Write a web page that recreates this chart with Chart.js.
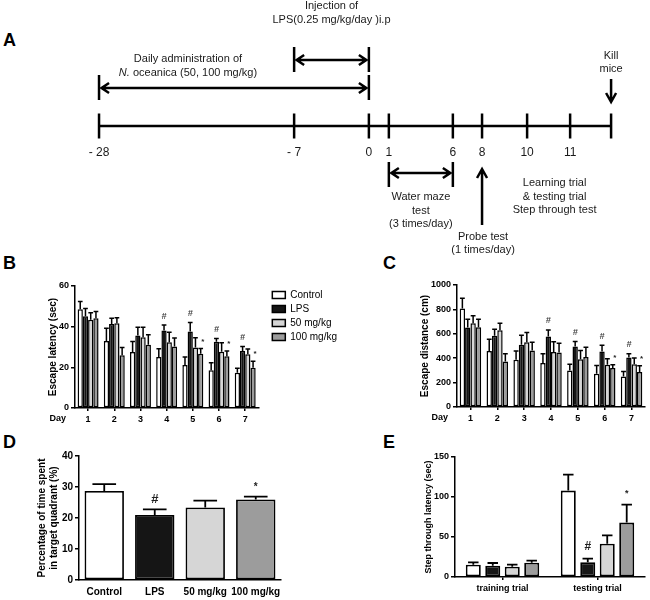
<!DOCTYPE html>
<html>
<head>
<meta charset="utf-8">
<script src="https://cdn.jsdelivr.net/npm/chart.js@4.4.0/dist/chart.umd.min.js"></script>
<style>
  body { margin: 0; background: #fff; width: 650px; height: 600px; position: relative; overflow: hidden; }
  canvas { position: absolute; }
  .letter { position: absolute; font: bold 18px Arial, "Liberation Sans", sans-serif; line-height: 20px; color: #000; }
</style>
</head>
<body>
<div class="letter" style="left:3px;top:30px">A</div>
<div class="letter" style="left:3px;top:253px">B</div>
<div class="letter" style="left:383px;top:253px">C</div>
<div class="letter" style="left:3px;top:432px">D</div>
<div class="letter" style="left:383px;top:432px">E</div>

<canvas id="chartA" width="650" height="260" style="left:0;top:0"></canvas>
<canvas id="chartB" width="370" height="165" style="left:0;top:270px"></canvas>
<canvas id="chartC" width="275" height="165" style="left:375px;top:270px"></canvas>
<canvas id="chartD" width="330" height="160" style="left:0;top:440px"></canvas>
<canvas id="chartE" width="320" height="160" style="left:330px;top:440px"></canvas>

<script>
const FONT = 'Arial, "Liberation Sans", sans-serif';

// timeline (panel A): tick labels and their place along the schematic axis
const tlLabels = ['- 28', '- 7', '0', '1', '6', '8', '10', '11', ''];
const tlPos = [0, 38.1, 52.7, 56.6, 69.1, 74.8, 83.6, 92.0, 100];

// groups
const groupNames = ['Control', 'LPS', '50 mg/kg', '100 mg/kg'];
const groupFill = ['#ffffff', '#151515', '#d6d6d6', '#9c9c9c'];

// B: escape latency (sec)
const days = ['1', '2', '3', '4', '5', '6', '7'];
const latControl = [48.6, 32.9, 27.6, 25.1, 21.1, 18.6, 17.3];
const latLPS = [45.1, 41.3, 35.7, 38.1, 37.6, 32.6, 28.0];
const lat50 = [43.4, 41.7, 34.8, 32.3, 29.7, 27.7, 26.4];
const lat100 = [44.1, 25.9, 31.1, 30.3, 26.7, 25.4, 19.8];
const latControlSem = [3.8, 6.3, 5.1, 4.1, 4.0, 3.6, 2.3];
const latLPSSem = [3.8, 2.8, 4.0, 2.7, 4.4, 1.6, 2.3];
const lat50Sem = [3.4, 2.7, 4.9, 5.0, 4.8, 4.4, 2.6];
const lat100Sem = [3.4, 3.8, 4.9, 4.1, 2.6, 2.6, 3.2];
const latLPSMarks = ['', '', '', '#', '#', '#', '#'];
const lat100Marks = ['', '', '', '', '*', '*', '*'];

// C: escape distance (cm)
const distControl = [807, 460, 387, 360, 300, 272, 251];
const distLPS = [651, 583, 510, 578, 496, 455, 406];
const dist50 = [687, 629, 531, 450, 392, 346, 351];
const dist100 = [654, 373, 463, 447, 409, 319, 286];
const distControlSem = [84, 96, 73, 76, 51, 69, 41];
const distLPSSem = [68, 55, 79, 54, 41, 52, 30];
const dist50Sem = [60, 58, 79, 84, 71, 49, 50];
const dist100Sem = [65, 63, 68, 76, 81, 27, 52];
const distLPSMarks = ['', '', '', '#', '#', '#', '#'];
const dist100Marks = ['', '', '', '', '', '*', '*'];

// D: time in target quadrant (%)
const quadrant = [28.7, 21.0, 23.4, 26.0];
const quadrantSem = [2.2, 1.8, 2.2, 0.9];
const quadrantMarks = ['', '#', '', '*'];

// E: step through latency (sec)
const trials = ['training trial', 'testing trial'];
const stepControl = [15.4, 108];
const stepLPS = [14.2, 18.3];
const step50 = [12.9, 41.7];
const step100 = [17.9, 68];
const stepControlSem = [2.9, 20];
const stepLPSSem = [3.3, 4.6];
const step50Sem = [2.5, 10.3];
const step100Sem = [2.5, 22.4];
const stepLPSMarks = ['', '#'];
const step100Marks = ['', '*'];

// ---------- panel A ----------
function hArrow(ctx, x1, x2, y) {
  ctx.beginPath();
  ctx.moveTo(x1 + 2, y); ctx.lineTo(x2 - 2, y);
  ctx.moveTo(x1 + 10, y - 5); ctx.lineTo(x1 + 2.5, y); ctx.lineTo(x1 + 10, y + 5);
  ctx.moveTo(x2 - 10, y - 5); ctx.lineTo(x2 - 2.5, y); ctx.lineTo(x2 - 10, y + 5);
  ctx.stroke();
}
function vLine(ctx, x, y1, y2) {
  ctx.beginPath(); ctx.moveTo(x, y1); ctx.lineTo(x, y2); ctx.stroke();
}
function vArrow(ctx, x, yFrom, yTo) {
  const d = yTo > yFrom ? 1 : -1;
  ctx.beginPath();
  ctx.moveTo(x, yFrom); ctx.lineTo(x, yTo);
  ctx.moveTo(x - 5, yTo - d * 9); ctx.lineTo(x, yTo); ctx.lineTo(x + 5, yTo - d * 9);
  ctx.stroke();
}
function centerLines(ctx, lines, cx, y, step) {
  ctx.textAlign = 'center';
  lines.forEach((t, i) => ctx.fillText(t, cx, y + i * step));
}

const timelinePlugin = {
  id: 'timeline',
  afterDatasetsDraw(chart) {
    const ctx = chart.ctx;
    const xs = tlPos.map(p => chart.scales.x.getPixelForValue(p));
    const y0 = chart.scales.y.getPixelForValue(0);
    ctx.save();
    ctx.strokeStyle = '#000';
    ctx.fillStyle = '#1a1a1a';
    ctx.lineWidth = 2.5;
    ctx.textBaseline = 'middle';

    // tick labels
    ctx.font = '12px ' + FONT;
    tlLabels.forEach((t, i) => { ctx.textAlign = 'center'; ctx.fillText(t, xs[i], y0 + 27); });

    // LPS injection
    vLine(ctx, xs[1], y0 - 79, y0 - 54);
    vLine(ctx, xs[2], y0 - 79, y0 - 54);
    hArrow(ctx, xs[1], xs[2], y0 - 66);
    ctx.font = '11px ' + FONT;
    centerLines(ctx, ['Injection of', 'LPS(0.25 mg/kg/day )i.p'], (xs[1] + xs[2]) / 2, y0 - 120, 14);

    // daily administration
    vLine(ctx, xs[0], y0 - 51, y0 - 26);
    vLine(ctx, xs[2], y0 - 51, y0 - 26);
    hArrow(ctx, xs[0], xs[2], y0 - 38);
    const cxD = (xs[0] + xs[2]) / 2 - 46;
    ctx.textAlign = 'center';
    ctx.fillText('Daily administration of', cxD, y0 - 67);
    const partA = 'N.', partB = ' oceanica (50, 100 mg/kg)';
    ctx.font = 'italic 11px ' + FONT;
    const wA = ctx.measureText(partA).width;
    ctx.font = '11px ' + FONT;
    const wB = ctx.measureText(partB).width;
    const sx = cxD - (wA + wB) / 2;
    ctx.textAlign = 'left';
    ctx.font = 'italic 11px ' + FONT;
    ctx.fillText(partA, sx, y0 - 53);
    ctx.font = '11px ' + FONT;
    ctx.fillText(partB, sx + wA, y0 - 53);

    // kill mice
    centerLines(ctx, ['Kill', 'mice'], xs[8], y0 - 70, 13);
    vArrow(ctx, xs[8], y0 - 47, y0 - 24);

    // water maze
    vLine(ctx, xs[3], y0 + 36, y0 + 61);
    vLine(ctx, xs[4], y0 + 36, y0 + 61);
    hArrow(ctx, xs[3], xs[4], y0 + 47);
    centerLines(ctx, ['Water maze', 'test', '(3 times/day)'], (xs[3] + xs[4]) / 2, y0 + 71, 13.5);

    // probe test
    vArrow(ctx, xs[5], y0 + 99, y0 + 43);
    centerLines(ctx, ['Probe test', '(1 times/day)'], xs[5] + 1, y0 + 111, 12.5);

    // step through
    centerLines(ctx, ['Learning trial', '& testing trial', 'Step through test'], (xs[6] + xs[7]) / 2 + 6, y0 + 57, 13.5);
    ctx.restore();
  }
};

new Chart(document.getElementById('chartA'), {
  type: 'scatter',
  data: {
    datasets: [{
      data: tlPos.map(p => ({ x: p, y: 0 })),
      showLine: true,
      borderColor: '#000',
      borderWidth: 2.5,
      pointStyle: 'line',
      rotation: 90,
      pointRadius: 12.5,
      pointBorderWidth: 2.5,
      pointBorderColor: '#000'
    }]
  },
  options: {
    responsive: false, animation: false, devicePixelRatio: 1,
    layout: { padding: 0, autoPadding: false },
    scales: {
      x: { type: 'linear', display: false, min: -19.34, max: 107.6 },
      y: { display: false, min: -126, max: 134, reverse: true }
    },
    plugins: { legend: { display: false }, tooltip: { enabled: false } }
  },
  plugins: [timelinePlugin]
});

// ---------- bar panels ----------
const errorBars = {
  id: 'errorBars',
  afterDatasetsDraw(chart, args, opts) {
    const ctx = chart.ctx;
    const yScale = chart.scales.y;
    chart.data.datasets.forEach((ds, i) => {
      if (!ds.errors) return;
      const meta = chart.getDatasetMeta(i);
      meta.data.forEach((bar, j) => {
        const v = ds.data[j];
        const yTop = yScale.getPixelForValue(v + ds.errors[j]);
        const cw = bar.width * opts.capRatio;
        ctx.save();
        ctx.strokeStyle = '#000';
        ctx.lineWidth = opts.lineWidth;
        ctx.beginPath();
        ctx.moveTo(bar.x, bar.y);
        ctx.lineTo(bar.x, yTop);
        ctx.moveTo(bar.x - cw / 2, yTop);
        ctx.lineTo(bar.x + cw / 2, yTop);
        ctx.stroke();
        const m = ds.marks ? ds.marks[j] : '';
        if (m) {
          ctx.fillStyle = m === '#' ? opts.hashColor : '#222';
          ctx.font = m === '#' ? opts.hashFont : opts.starFont;
          ctx.textAlign = 'center';
          ctx.textBaseline = 'middle';
          ctx.fillText(m, bar.x + (m === '*' ? opts.starShift : 0), yTop - (m === '#' ? opts.hashGap : opts.starGap));
        }
        ctx.restore();
      });
    });
  }
};

const dayLabel = {
  id: 'dayLabel',
  afterDraw(chart) {
    const ctx = chart.ctx;
    ctx.save();
    ctx.font = 'bold 9px ' + FONT;
    ctx.fillStyle = '#000';
    ctx.textAlign = 'right';
    ctx.textBaseline = 'middle';
    ctx.fillText('Day', chart.chartArea.left - 9, chart.scales.x.top + 11);
    ctx.restore();
  }
};

function yAxis(max, step, title, tickSize, titleSize, width) {
  return {
    min: 0, max: max,
    ticks: { stepSize: step, color: '#000', padding: 2, callback: v => String(v), font: { family: FONT, weight: 'bold', size: tickSize } },
    border: { color: '#000', width: 1.5 },
    grid: { drawOnChartArea: false, drawTicks: true, tickLength: 4, color: '#000', lineWidth: 1.5 },
    title: { display: true, text: title, color: '#000', padding: { top: 4, bottom: 2 }, font: { family: FONT, weight: 'bold', size: titleSize, lineHeight: 1.2 } },
    afterFit: s => { s.width = width; }
  };
}
function xAxis(tickSize, height, showTicks) {
  return {
    ticks: { color: '#000', padding: 3, maxRotation: 0, minRotation: 0, autoSkip: false, font: { family: FONT, weight: 'bold', size: tickSize } },
    border: { color: '#000', width: 1.5 },
    grid: { display: showTicks, offset: false, drawOnChartArea: false, drawTicks: true, tickLength: 3, color: '#000', lineWidth: 1.5 },
    afterFit: s => { s.height = height; }
  };
}
function groupSet(i, data, errors, marks, opts) {
  return Object.assign({
    label: groupNames[i], data: data, errors: errors, marks: marks,
    backgroundColor: groupFill[i], borderColor: '#000', borderWidth: 1.5, borderSkipped: false
  }, opts || {});
}
const baseOpts = { responsive: false, animation: false, devicePixelRatio: 1 };

// B
new Chart(document.getElementById('chartB'), {
  type: 'bar',
  data: {
    labels: days,
    datasets: [
      groupSet(0, latControl, latControlSem, null),
      groupSet(1, latLPS, latLPSSem, latLPSMarks),
      groupSet(2, lat50, lat50Sem, null),
      groupSet(3, lat100, lat100Sem, lat100Marks)
    ].map(d => Object.assign(d, { barPercentage: 1, categoryPercentage: 0.8 }))
  },
  options: Object.assign({}, baseOpts, {
    layout: { padding: { left: 43, top: 16, bottom: 7, right: 23 } },
    scales: {
      x: xAxis(9, 20, true),
      y: yAxis(60, 20, 'Escape latency (sec)', 9, 10, 32),
      gap: { position: 'right', display: true, grid: { display: false }, border: { display: false }, ticks: { display: false }, afterFit: s => { s.width = 10; } }
    },
    plugins: {
      legend: {
        position: 'right', align: 'start', maxWidth: 120,
        labels: { boxWidth: 13, boxHeight: 7, padding: 4, color: '#000', font: { family: FONT, size: 10 } }
      },
      tooltip: { enabled: false },
      errorBars: { capRatio: 0.9, lineWidth: 1.5, hashFont: 'bold italic 9px ' + FONT, starFont: 'bold 8px ' + FONT, hashColor: '#444', hashGap: 9, starGap: 7, starShift: 2 }
    }
  }),
  plugins: [errorBars, dayLabel]
});

// C
new Chart(document.getElementById('chartC'), {
  type: 'bar',
  data: {
    labels: days,
    datasets: [
      groupSet(0, distControl, distControlSem, null),
      groupSet(1, distLPS, distLPSSem, distLPSMarks),
      groupSet(2, dist50, dist50Sem, null),
      groupSet(3, dist100, dist100Sem, dist100Marks)
    ].map(d => Object.assign(d, { barPercentage: 1, categoryPercentage: 0.8 }))
  },
  options: Object.assign({}, baseOpts, {
    layout: { padding: { left: 40, top: 15, bottom: 8, right: 5 } },
    scales: {
      x: xAxis(9, 20, true),
      y: yAxis(1000, 200, 'Escape distance (cm)', 9, 10, 42)
    },
    plugins: {
      legend: { display: false },
      tooltip: { enabled: false },
      errorBars: { capRatio: 0.9, lineWidth: 1.5, hashFont: 'bold italic 9px ' + FONT, starFont: 'bold 8px ' + FONT, hashColor: '#444', hashGap: 9, starGap: 7, starShift: 2 }
    }
  }),
  plugins: [errorBars, dayLabel]
});

// D
new Chart(document.getElementById('chartD'), {
  type: 'bar',
  data: {
    labels: groupNames,
    datasets: [{
      data: quadrant, errors: quadrantSem, marks: quadrantMarks,
      backgroundColor: groupFill, borderColor: '#000', borderWidth: 1.8, borderSkipped: false,
      barPercentage: 0.78, categoryPercentage: 1
    }]
  },
  options: Object.assign({}, baseOpts, {
    layout: { padding: { left: 32, top: 16, bottom: 2, right: 49 } },
    scales: {
      x: xAxis(10, 18, false),
      y: yAxis(40, 10, ['Percentage of time spent', 'in target quadrant (%)'], 10, 10, 47)
    },
    plugins: {
      legend: { display: false },
      tooltip: { enabled: false },
      errorBars: { capRatio: 0.6, lineWidth: 1.8, hashFont: 'bold 13px ' + FONT, starFont: 'bold 10px ' + FONT, hashColor: '#222', hashGap: 10, starGap: 9, starShift: 0 }
    }
  }),
  plugins: [errorBars]
});

// E
new Chart(document.getElementById('chartE'), {
  type: 'bar',
  data: {
    labels: trials,
    datasets: [
      groupSet(0, stepControl, stepControlSem, null),
      groupSet(1, stepLPS, stepLPSSem, stepLPSMarks),
      groupSet(2, step50, step50Sem, null),
      groupSet(3, step100, step100Sem, step100Marks)
    ].map(d => Object.assign(d, { barPercentage: 0.77, categoryPercentage: 0.82, borderWidth: 1.8 }))
  },
  options: Object.assign({}, baseOpts, {
    layout: { padding: { left: 89, top: 17, bottom: 5, right: 5 } },
    scales: {
      x: xAxis(9, 18, true),
      y: yAxis(150, 50, 'Step through latency (sec)', 9, 9, 36)
    },
    plugins: {
      legend: { display: false },
      tooltip: { enabled: false },
      errorBars: { capRatio: 0.7, lineWidth: 1.8, hashFont: 'bold 12px ' + FONT, starFont: 'bold 9px ' + FONT, hashColor: '#222', hashGap: 12, starGap: 11, starShift: 0 }
    }
  }),
  plugins: [errorBars]
});
</script>
</body>
</html>
